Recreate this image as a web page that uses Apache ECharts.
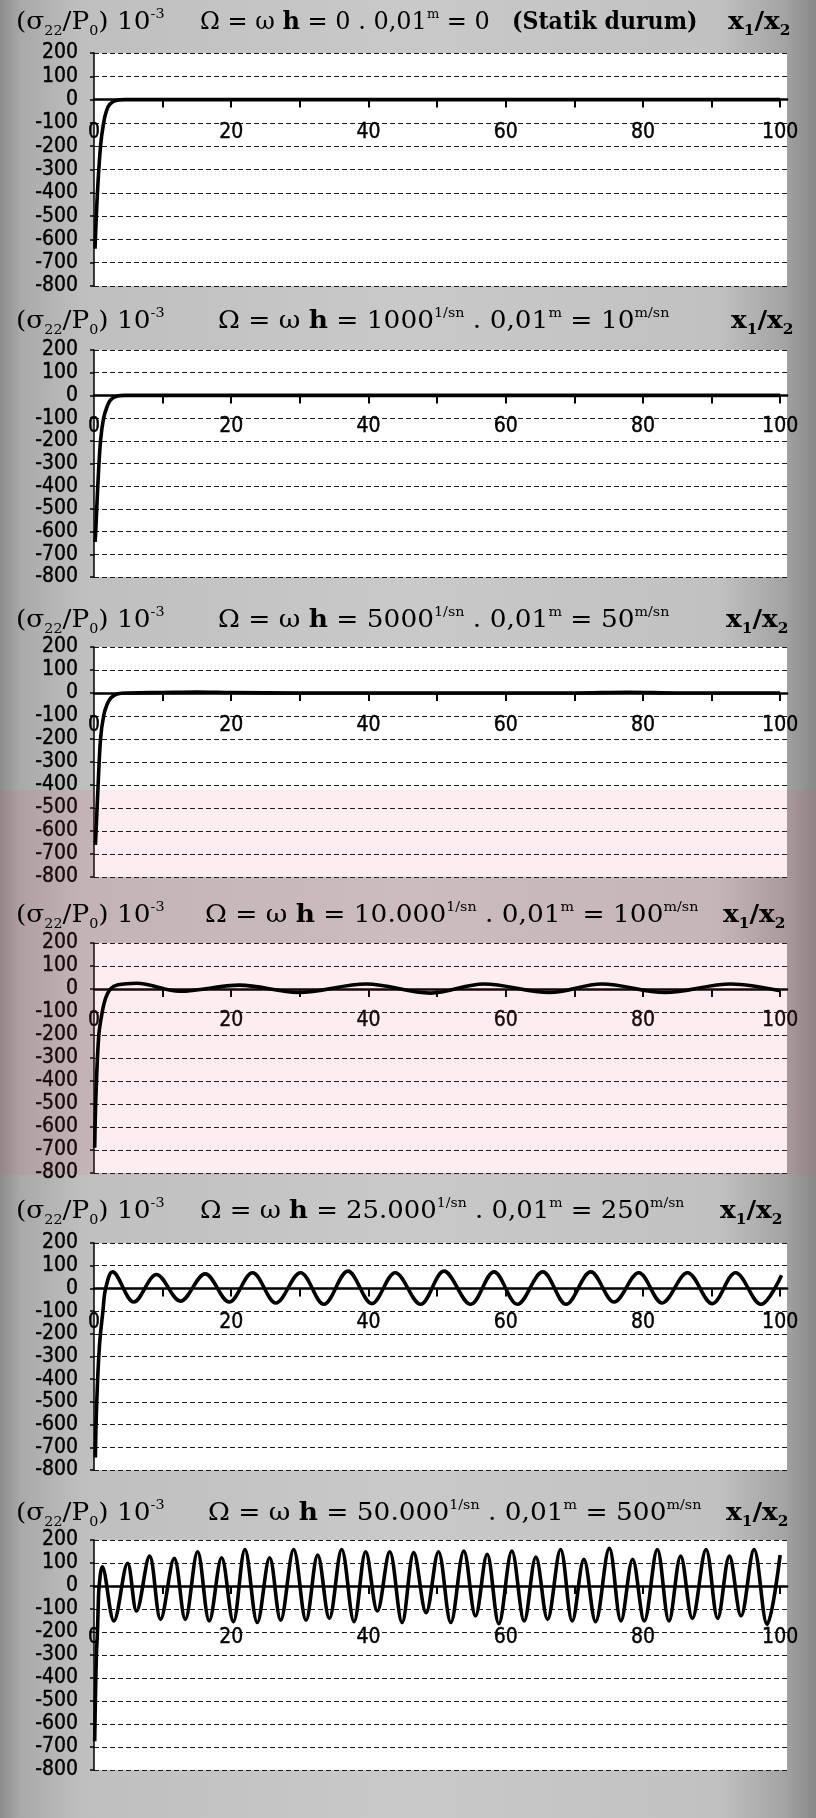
<!DOCTYPE html>
<html>
<head>
<meta charset="utf-8">
<script src="https://cdn.jsdelivr.net/npm/echarts@6/dist/echarts.min.js"></script>
<style>
  html, body { margin: 0; padding: 0; }
  body {
    width: 816px; height: 1818px; overflow: hidden;
    background: linear-gradient(to right, #8c8c8c 0%, #a9a9a9 2.5%, #bfbfbf 10%, #c9c9c9 50%, #c1c1c1 88%, #a4a4a4 96%, #888888 100%);
  }
  #chart { width: 816px; height: 1818px; }
</style>
</head>
<body>
<div id="chart"></div>
<script>
// σ22/P0 (×10^-3) along x1/x2 for six load speeds Ω = ω·h

// axis ticks and labels
const xTickValues = [10, 20, 30, 40, 50, 60, 70, 80, 90, 100];
const xLabelValues = [0, 20, 40, 60, 80, 100];

// panel headings: ω (1/sn) and resulting Ω (m/sn)
const omegaLabels = ['0', '1000', '5000', '10.000', '25.000', '50.000'];
const speedLabels = ['0', '10', '50', '100', '250', '500'];

// curves as [x1/x2, σ22/P0·10^3]
const curveStatic = [
  [0.15, -640], [0.2, -600], [0.5, -400], [0.95, -200], [1.4, -100], [1.8, -50],
  [2.3, -20], [3.3, -3], [4.5, 0], [10, 0], [20, 0], [30, 0], [40, 0], [50, 0],
  [60, 0], [70, 0], [80, 0], [90, 0], [100, 0]
];
const curve1000 = [
  [0.15, -645], [0.25, -600], [0.55, -400], [0.95, -200], [1.4, -100], [1.9, -50],
  [2.4, -20], [3.4, -3], [4.5, 0], [10, 0], [20, 0], [30, 0], [40, 0], [50, 0],
  [60, 0], [70, 0], [80, 0], [90, 0], [100, 0]
];
const curve5000 = [
  [0.2, -660], [0.3, -600], [0.6, -400], [0.95, -200], [1.4, -100], [1.9, -50],
  [2.5, -20], [3.5, -3], [5, 0], [10, 2], [15, 4], [20, 2], [30, 0], [40, 0],
  [50, 0], [60, 0], [70, 0], [78, 3], [85, 0], [100, 0]
];
const curve10000 = [
  [0.1, -690], [0.3, -450], [0.7, -200], [1.2, -100], [1.7, -40], [2.4, 0],
  [3.5, 18], [6.2, 25], [12.5, -10], [21.2, 17], [29.8, -15], [39.7, 22],
  [49, -18], [56.8, 22], [66.4, -15], [74, 22], [83.2, -15], [92.8, 22], [100, -8]
];
const curve25000 = [
  [0.2, -745], [0.4, -500], [0.8, -250], [1.3, -100], [1.7, 0], [2.7, 73],
  [5.8, -60], [9.1, 61], [12.6, -56], [16.2, 64], [19.7, -60], [23.1, 69],
  [26.5, -64], [30.1, 69], [33.5, -70], [37.0, 76], [40.5, -67], [43.9, 69],
  [47.6, -70], [51.0, 76], [54.9, -70], [58.3, 73], [61.7, -70], [65.4, 73],
  [68.8, -70], [72.4, 73], [75.8, -60], [79.4, 69], [82.8, -64], [86.5, 69],
  [90.1, -67], [93.5, 69], [97.2, -70], [100.2, 58]
];
const curve50000 = [
  [0.1, -675], [0.2, -500], [0.35, -300], [0.5, -200], [0.6, -100], [0.75, 0],
  [1.2, 83], [2.9, -152], [4.9, 99], [6.2, -109], [8.1, 130], [9.7, -145],
  [11.7, 120], [13.3, -145], [15.1, 149], [16.8, -152], [18.6, 123], [20.3, -155],
  [22.0, 159], [23.8, -159], [25.6, 123], [27.2, -149], [29.1, 159], [30.9, -149],
  [32.6, 135], [34.3, -141], [36.1, 159], [37.9, -155], [39.6, 149], [41.3, -109],
  [43.1, 149], [44.9, -159], [46.6, 145], [48.4, -116], [50.2, 149], [52.0, -159],
  [53.9, 152], [55.6, -130], [57.3, 138], [59.0, -164], [60.9, 152], [62.7, -152],
  [64.4, 126], [66.1, -145], [68.0, 159], [69.7, -152], [71.4, 116], [73.1, -155],
  [75.1, 164], [76.8, -152], [78.5, 116], [80.2, -152], [82.1, 159], [83.8, -152],
  [85.5, 130], [87.2, -141], [89.2, 159], [90.9, -141], [92.6, 130], [94.3, -130],
  [96.2, 159], [98.1, -167], [100, 135]
];
const curves = [curveStatic, curve1000, curve5000, curve10000, curve25000, curve50000];

// page layout of the six stacked panels
const panelLayout = [
  { top: 53,   height: 233, titleY: 23,   omegaX: 200, headScale: 1.0, ratioX: 728, labelGap: 22 },
  { top: 350,  height: 227, titleY: 322,  omegaX: 218, headScale: 1.1, ratioX: 731, labelGap: 21 },
  { top: 647,  height: 230, titleY: 621,  omegaX: 218, headScale: 1.1, ratioX: 726, labelGap: 22 },
  { top: 943,  height: 230, titleY: 916,  omegaX: 205, headScale: 1.1, ratioX: 723, labelGap: 21 },
  { top: 1243, height: 227, titleY: 1212, omegaX: 200, headScale: 1.08, ratioX: 720, labelGap: 24 },
  { top: 1540, height: 230, titleY: 1514, omegaX: 208, headScale: 1.1, ratioX: 726, labelGap: 41 }
];
const Y_MIN = -800, Y_MAX = 200;

const SERIF = '"DejaVu Serif", "Liberation Serif", serif';
const NARROW = '"Liberation Sans Narrow", "DejaVu Sans Condensed", "Arial Narrow", sans-serif';
const INK = '#0d0d0d';

const titleRich = {
  n:    { fontFamily: SERIF, fontSize: 24, color: INK, lineHeight: 30 },
  b:    { fontFamily: SERIF, fontSize: 24, color: INK, lineHeight: 30, fontWeight: 'bold' },
  sub:  { fontFamily: SERIF, fontSize: 13, color: INK, lineHeight: 14, verticalAlign: 'bottom' },
  sup:  { fontFamily: SERIF, fontSize: 13, color: INK, lineHeight: 14, verticalAlign: 'top' },
  bsub: { fontFamily: SERIF, fontSize: 14, color: INK, lineHeight: 14, verticalAlign: 'bottom', fontWeight: 'bold' }
};

function headingText(i) {
  if (i === 0) {
    return '{n|Ω = ω }{b|h}{n| = ' + omegaLabels[0] + ' . 0,01}{sup|m}{n| = ' + speedLabels[0] + '}';
  }
  return '{n|Ω = ω }{b|h}{n| = ' + omegaLabels[i] + '}{sup|1/sn}{n| . 0,01}{sup|m}{n| = ' +
    speedLabels[i] + '}{sup|m/sn}';
}

function textEl(x, y, text, scale) {
  return {
    type: 'text', x: x, y: y, scaleX: scale, z: 10,
    style: { text: text, rich: titleRich, verticalAlign: 'middle', align: 'left' }
  };
}

const tickFont = {
  fontFamily: NARROW, fontSize: 21, color: '#000',
  textBorderColor: '#000', textBorderWidth: 0.4
};

const grids = [], xAxes = [], yAxes = [], series = [], graphics = [];

panelLayout.forEach((p, i) => {
  // distance from the bottom edge of the plot up to the zero line
  const zeroLift = p.height * (0 - Y_MIN) / (Y_MAX - Y_MIN);
  grids.push({
    left: 94, width: 693, top: p.top, height: p.height,
    show: true, backgroundColor: '#ffffff', borderWidth: 0
  });
  xAxes.push({
    type: 'value', gridIndex: i, min: 0, max: 101, interval: 10,
    position: 'bottom', offset: -zeroLift,
    axisLine: { show: true, onZero: false, lineStyle: { color: '#000', width: 2.5 } },
    axisTick: { show: true, length: 8, customValues: xTickValues, lineStyle: { color: '#000', width: 2 } },
    axisLabel: Object.assign({ show: true, customValues: xLabelValues, margin: p.labelGap }, tickFont),
    splitLine: { show: false }
  });
  yAxes.push({
    type: 'value', gridIndex: i, min: Y_MIN, max: Y_MAX, interval: 100,
    axisLine: { show: true, onZero: false, lineStyle: { color: '#000', width: 1.5 } },
    axisTick: { show: true, length: 4, lineStyle: { color: '#000', width: 1.5 } },
    axisLabel: Object.assign({ show: true, margin: 16 }, tickFont),
    splitLine: { show: true, lineStyle: { color: '#1a1a1a', width: 1.2, type: [5, 3] } }
  });
  series.push({
    type: 'line', xAxisIndex: i, yAxisIndex: i, data: curves[i],
    showSymbol: false, smooth: 0.35, animation: false, silent: true, z: 3,
    lineStyle: { color: '#000', width: 3.6 }
  });
  graphics.push(textEl(16, p.titleY, '{n|(σ}{sub|22}{n|/P}{sub|0}{n|) 10}{sup|-3}', 1.1));
  graphics.push(textEl(p.omegaX, p.titleY, headingText(i), p.headScale));
  graphics.push(textEl(p.ratioX, p.titleY, '{b|x}{bsub|1}{b|/x}{bsub|2}', 1.1));
});
// static case note in the first heading
graphics.push(textEl(512, panelLayout[0].titleY, '{b|(Statik durum)}', 0.92));

// pale pink band printed across the middle of the page
graphics.push({
  type: 'rect', z: 1, silent: true,
  shape: { x: 0, y: 790, width: 816, height: 385 },
  style: { fill: 'rgba(236, 80, 100, 0.10)' }
});

const chart = echarts.init(document.getElementById('chart'), null, { renderer: 'canvas', width: 816, height: 1818 });
chart.setOption({
  backgroundColor: 'transparent',
  animation: false,
  grid: grids,
  xAxis: xAxes,
  yAxis: yAxes,
  series: series,
  graphic: graphics
});
</script>
</body>
</html>
